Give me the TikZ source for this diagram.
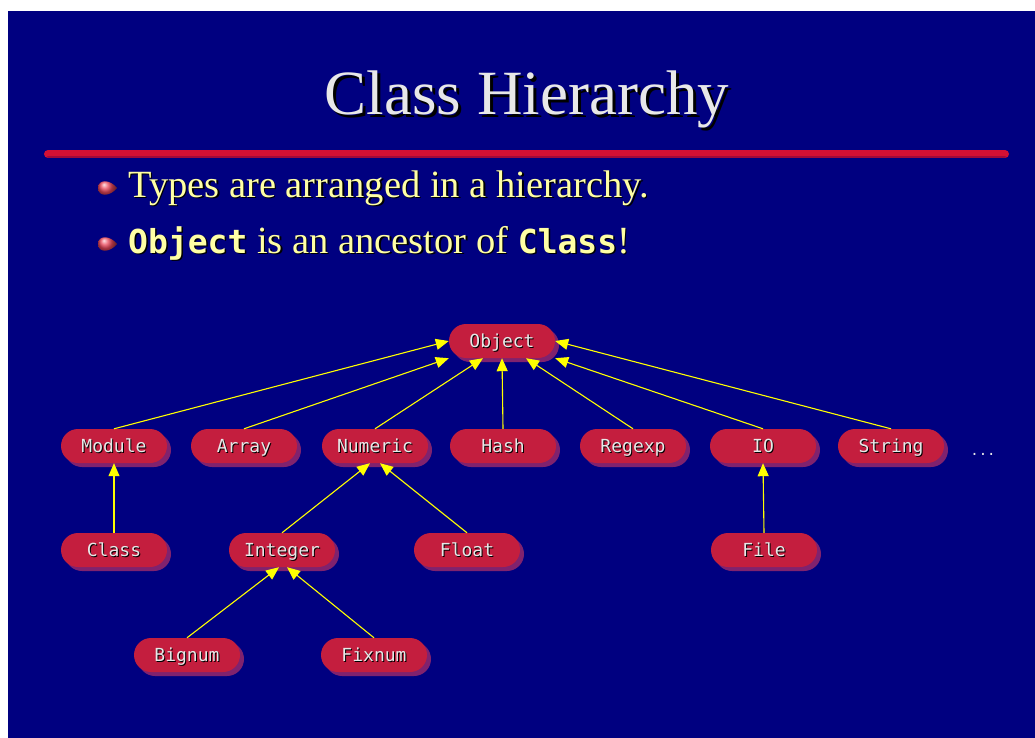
\documentclass[tikz,border=0pt]{standalone}
\usepackage{fontspec}
\setmainfont{Liberation Serif}
\newfontfamily\codefont{DejaVu Sans Mono}
\usetikzlibrary{arrows.meta,shadows}

\definecolor{slidebg}{RGB}{0,0,128}
\definecolor{titlegray}{RGB}{232,232,232}
\definecolor{textyellow}{RGB}{255,255,165}
\definecolor{rulered}{RGB}{212,16,52}
\definecolor{rulered2}{RGB}{160,10,60}
\definecolor{pillred}{RGB}{196,30,62}
\definecolor{pillshade}{RGB}{128,34,110}
\definecolor{linkyellow}{RGB}{255,255,0}
\definecolor{bulletred}{RGB}{235,70,90}

% text with a dark copy offset down and to the right
\newcommand{\shadowtext}[3]{\makebox[0pt][l]{\hspace*{#1}\raisebox{-#1}{\color{#2}#3}}#3}

\tikzset{
  cls/.style={rectangle, rounded corners=17pt, minimum width=106pt, minimum height=34pt,
    inner sep=0pt, text height=13pt, text depth=0pt, fill=pillred, text=titlegray,
    font=\codefont\fontsize{18}{20}\selectfont,
    drop shadow={shadow xshift=4pt, shadow yshift=-4pt, fill=pillshade, opacity=1}},
  link/.style={draw=linkyellow, line width=1.1pt, -{Triangle[length=13pt,width=11pt]}},
  title/.style={font=\fontsize{63}{70}\selectfont, text=titlegray, inner sep=0pt},
  bullettext/.style={font=\fontsize{38.5}{44}\selectfont, text=textyellow, inner sep=0pt, anchor=base west}
}

\newcommand{\bulletmark}[2]{%
  \begin{scope}[shift={(#1,#2)}]
    \shade[ball color=bulletred] (10,0) .. controls (3,-9) and (-9,-9) .. (-9,0)
      .. controls (-9,9) and (3,9) .. (10,0) -- cycle;
  \end{scope}}

\newcommand{\code}[1]{{\codefont\bfseries\fontsize{33}{40}\selectfont #1}}

\begin{document}
\begin{tikzpicture}[x=1pt,y=-1pt]
  \useasboundingbox (0,0) rectangle (1035,738);
  \fill[white] (0,0) rectangle (1035,738);
  \fill[slidebg] (8,11) rectangle (1035,738);

  % heading and rule
  \node[title, anchor=base] (heading) at (527,115) {\shadowtext{3pt}{black}{Class Hierarchy}};
  \draw[rulered, line width=8pt, line cap=round] (48,154) -- (1005,154);
  \draw[rulered2, line width=2.5pt, line cap=round] (48,157) -- (1005,157);

  % bullet points
  \bulletmark{107}{188}
  \bulletmark{107}{244}
  \node[bullettext] (point1) at (128,197)
    {\shadowtext{1.5pt}{black}{Types are arranged in a hierarchy.}};
  \node[bullettext] (point2) at (128,253)
    {\shadowtext{1.5pt}{black}{\code{Object} is an ancestor of \code{Class}!}};

  % class nodes
  \node[cls] (Object)  at (502,341) {\shadowtext{1pt}{black}{Object}};
  \node[cls] (Module)  at (114,446) {\shadowtext{1pt}{black}{Module}};
  \node[cls] (Array)   at (244,446) {\shadowtext{1pt}{black}{Array}};
  \node[cls] (Numeric) at (375,446) {\shadowtext{1pt}{black}{Numeric}};
  \node[cls] (Hash)    at (503,446) {\shadowtext{1pt}{black}{Hash}};
  \node[cls] (Regexp)  at (633,446) {\shadowtext{1pt}{black}{Regexp}};
  \node[cls] (IO)      at (763,446) {\shadowtext{1pt}{black}{IO}};
  \node[cls] (String)  at (891,446) {\shadowtext{1pt}{black}{String}};
  \node[cls] (Class)   at (114,550) {\shadowtext{1pt}{black}{Class}};
  \node[cls] (Integer) at (282,550) {\shadowtext{1pt}{black}{Integer}};
  \node[cls] (Float)   at (467,550) {\shadowtext{1pt}{black}{Float}};
  \node[cls] (File)    at (764,550) {\shadowtext{1pt}{black}{File}};
  \node[cls] (Bignum)  at (187,655) {\shadowtext{1pt}{black}{Bignum}};
  \node[cls] (Fixnum)  at (374,655) {\shadowtext{1pt}{black}{Fixnum}};
  \node[text=titlegray, font=\codefont\fontsize{14}{16}\selectfont] (more) at (983,454) {...};

  % inheritance links
  \draw[link] (Module.north)  -- (Object.west);
  \draw[link] (Array.north)   -- (Object.south west);
  \draw[link] (Numeric.north) -- ([xshift=-19pt]Object.south);
  \draw[link] (Hash.north)    -- (Object.south);
  \draw[link] (Regexp.north)  -- ([xshift=24pt]Object.south);
  \draw[link] (IO.north)      -- (Object.south east);
  \draw[link] (String.north)  -- (Object.east);
  \draw[link] (Class.north)   -- (Module.south);
  \draw[link] (Integer.north) -- ([xshift=-5pt]Numeric.south);
  \draw[link] (Float.north)   -- ([xshift=5pt]Numeric.south);
  \draw[link] (File.north)    -- (IO.south);
  \draw[link] (Bignum.north)  -- ([xshift=-3pt]Integer.south);
  \draw[link] (Fixnum.north)  -- ([xshift=5pt]Integer.south);
\end{tikzpicture}
\end{document}
